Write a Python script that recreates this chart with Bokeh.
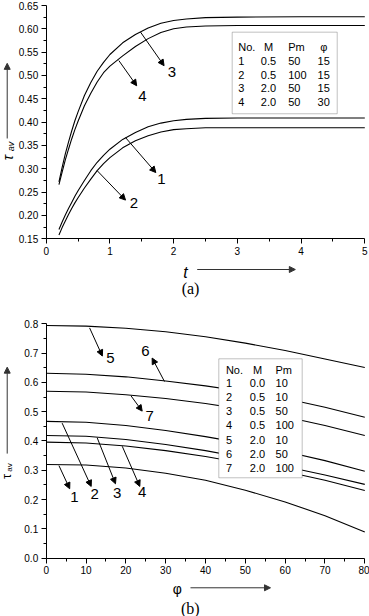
from math import pi
from bokeh.plotting import figure
from bokeh.layouts import column
from bokeh.models import (Range1d, FixedTicker, PrintfTickFormatter, Label, Arrow,
                          NormalHead, BoxAnnotation)
from bokeh.embed import file_html
from bokeh.resources import INLINE

SANS = "Liberation Sans"
SERIF = "Liberation Serif"

# ---------------- (a) tau_av versus t ----------------
a_t = [0.2, 0.25, 0.3, 0.35, 0.4, 0.45, 0.5, 0.6, 0.7, 0.8, 0.9, 1.0, 1.2, 1.4,
       1.6, 1.8, 2.0, 2.2, 2.5, 3.0, 4.0, 5.0]
a_tau1 = [0.170, 0.186, 0.201, 0.215, 0.228, 0.241, 0.253, 0.275, 0.296, 0.314, 0.329,
          0.342, 0.363, 0.378, 0.390, 0.398, 0.403, 0.406, 0.408, 0.409, 0.409, 0.409]
a_tau2 = [0.158, 0.174, 0.188, 0.202, 0.215, 0.227, 0.238, 0.259, 0.278, 0.296, 0.311,
          0.324, 0.345, 0.360, 0.371, 0.379, 0.384, 0.386, 0.388, 0.388, 0.388, 0.388]
a_tau3 = [0.272, 0.303, 0.332, 0.357, 0.381, 0.403, 0.422, 0.457, 0.485, 0.509, 0.528,
          0.545, 0.570, 0.588, 0.602, 0.612, 0.618, 0.621, 0.624, 0.625, 0.626, 0.626]
a_tau4 = [0.266, 0.293, 0.319, 0.342, 0.364, 0.384, 0.402, 0.435, 0.462, 0.486, 0.506,
          0.520, 0.542, 0.562, 0.579, 0.592, 0.600, 0.604, 0.606, 0.607, 0.607, 0.607]
a_series = [a_tau1, a_tau2, a_tau3, a_tau4]

a_leg_no = ["1", "2", "3", "4"]
a_leg_M = ["0.5", "0.5", "2.0", "2.0"]
a_leg_Pm = ["50", "100", "50", "50"]
a_leg_phi = ["15", "15", "15", "30"]

a_xticks = [0, 1, 2, 3, 4, 5]
a_yticks = [0.15, 0.20, 0.25, 0.30, 0.35, 0.40, 0.45, 0.50, 0.55, 0.60, 0.65]

# ---------------- (b) tau_av versus phi ----------------
b_phi = [0, 10, 20, 30, 40, 50, 60, 70, 80]
b_tau1 = [0.320, 0.318, 0.308, 0.290, 0.266, 0.232, 0.192, 0.145, 0.089]
b_tau2 = [0.467, 0.464, 0.453, 0.436, 0.415, 0.391, 0.364, 0.333, 0.297]
b_tau3 = [0.419, 0.416, 0.405, 0.388, 0.367, 0.342, 0.313, 0.284, 0.252]
b_tau4 = [0.396, 0.393, 0.383, 0.367, 0.347, 0.323, 0.296, 0.266, 0.231]
b_tau5 = [0.794, 0.792, 0.785, 0.773, 0.756, 0.734, 0.709, 0.680, 0.651]
b_tau6 = [0.631, 0.628, 0.619, 0.605, 0.588, 0.568, 0.545, 0.515, 0.481]
b_tau7 = [0.570, 0.567, 0.558, 0.545, 0.528, 0.507, 0.483, 0.453, 0.419]
b_series = [b_tau1, b_tau2, b_tau3, b_tau4, b_tau5, b_tau6, b_tau7]

b_leg_no = ["1", "2", "3", "4", "5", "6", "7"]
b_leg_M = ["0.0", "0.5", "0.5", "0.5", "2.0", "2.0", "2.0"]
b_leg_Pm = ["10", "10", "50", "100", "10", "50", "100"]

b_xticks = [0, 10, 20, 30, 40, 50, 60, 70, 80]
b_yticks = [0.0, 0.1, 0.2, 0.3, 0.4, 0.5, 0.6, 0.7, 0.8]


def style(p, xt, yt, xfmt, yfmt):
    p.xaxis.ticker = FixedTicker(ticks=xt, minor_ticks=[(a + b) / 2 for a, b in zip(xt[:-1], xt[1:])])
    p.yaxis.ticker = FixedTicker(ticks=yt, minor_ticks=[(a + b) / 2 for a, b in zip(yt[:-1], yt[1:])])
    p.xaxis.formatter = PrintfTickFormatter(format=xfmt)
    p.yaxis.formatter = PrintfTickFormatter(format=yfmt)
    # axes sit inside the full-canvas frame at the data origin
    p.xaxis.fixed_location = yt[0]
    p.xaxis.bounds = (xt[0], xt[-1])
    p.yaxis.fixed_location = xt[0]
    p.yaxis.bounds = (yt[0], yt[-1])
    for ax in (p.xaxis[0], p.yaxis[0]):
        ax.axis_line_color = "black"
        ax.axis_line_width = 1
        ax.major_tick_line_color = "black"
        ax.minor_tick_line_color = "black"
        ax.major_tick_out = 5
        ax.major_tick_in = 0
        ax.minor_tick_out = 3
        ax.minor_tick_in = 0
        ax.major_label_text_font = SANS
        ax.major_label_text_font_size = "10px"
        ax.major_label_text_color = "black"
        ax.major_label_standoff = 3
    p.xgrid.visible = False
    p.ygrid.visible = False
    p.outline_line_color = None


def txt(p, x, y, s, size="11px", align="left", font=SANS, style_="normal", angle=0, color="black"):
    p.add_layout(Label(x=x, y=y, text=s, text_font=font, text_font_size=size,
                       text_align=align, text_baseline="middle", text_font_style=style_,
                       angle=angle, text_color=color))


def arrow(p, x0, y0, x1, y1, size=6, color="black", width=1):
    p.add_layout(Arrow(x_start=x0, y_start=y0, x_end=x1, y_end=y1, line_color=color,
                       line_width=width,
                       end=NormalHead(size=size, fill_color=color, line_color=color, line_width=1)))


# ---------------- figure (a) ----------------
p1 = figure(width=369, height=300, x_range=Range1d(-0.7172, 5.0738),
            y_range=Range1d(0.0178, 0.6607),
            output_backend="svg", toolbar_location=None,
            min_border_left=0, min_border_right=0, min_border_top=0, min_border_bottom=0)
style(p1, a_xticks, a_yticks, "%d", "%.2f")
for s in a_series:
    p1.line(a_t, s, line_color="black", line_width=1.1)

# curve labels with arrows
arrow(p1, 1.48, 0.593, 1.85, 0.521); txt(p1, 1.975, 0.508, "3", "15px", "center")
arrow(p1, 1.14, 0.532, 1.42, 0.478); txt(p1, 1.51, 0.457, "4", "15px", "center")
arrow(p1, 1.245, 0.367, 1.72, 0.292); txt(p1, 1.81, 0.279, "1", "15px", "center")
arrow(p1, 0.80, 0.296, 1.245, 0.233); txt(p1, 1.375, 0.226, "2", "15px", "center")

# legend table
p1.add_layout(BoxAnnotation(left=2.919, right=4.567, bottom=0.418, top=0.5928,
                            fill_color="white", fill_alpha=1.0, line_color="#333333",
                            line_width=1, level="annotation"))
a_rows = [0.5315, 0.5021, 0.4722, 0.4428]
txt(p1, 3.013, 0.5606, "No.")
txt(p1, 3.489, 0.5606, "M", align="center")
txt(p1, 3.798, 0.5606, "Pm")
txt(p1, 4.355, 0.5606, "\u03c6", align="center")
for i in range(len(a_leg_no)):
    txt(p1, 3.013, a_rows[i], a_leg_no[i])
    txt(p1, 3.489, a_rows[i], a_leg_M[i], align="center")
    txt(p1, 3.798, a_rows[i], a_leg_Pm[i])
    txt(p1, 4.355, a_rows[i], a_leg_phi[i], align="center")

# axis titles with arrows
txt(p1, -0.607, 0.3242, "\u03c4", "14px", "center", style_="italic", angle=pi / 2)
txt(p1, -0.560, 0.3478, "av", "9px", "center", style_="italic", angle=pi / 2)
arrow(p1, -0.612, 0.365, -0.612, 0.526, size=6, color="#333333")
txt(p1, 2.187, 0.078, "t", "16px", "center", style_="italic")
arrow(p1, 2.37, 0.0842, 3.91, 0.0842, size=6, color="#333333")
txt(p1, 2.265, 0.043, "(a)", "16px", "center", font=SERIF)

# ---------------- figure (b) ----------------
p2 = figure(width=369, height=316, x_range=Range1d(-11.475, 81.18),
            y_range=Range1d(-0.199, 0.8795),
            output_backend="svg", toolbar_location=None,
            min_border_left=0, min_border_right=0, min_border_top=0, min_border_bottom=0)
style(p2, b_xticks, b_yticks, "%d", "%.1f")
for s in b_series:
    p2.line(b_phi, s, line_color="black", line_width=1.1)

arrow(p2, 10.9, 0.786, 14.1, 0.690); txt(p2, 16.15, 0.684, "5", "15px", "center")
arrow(p2, 29.7, 0.603, 26.6, 0.683); txt(p2, 24.9, 0.706, "6", "15px", "center")
arrow(p2, 21.3, 0.554, 24.1, 0.502); txt(p2, 26.0, 0.487, "7", "15px", "center")
arrow(p2, 3.2, 0.316, 5.9, 0.237); txt(p2, 7.1, 0.210, "1", "15px", "center")
arrow(p2, 4.0, 0.461, 11.3, 0.245); txt(p2, 12.2, 0.220, "2", "15px", "center")
arrow(p2, 12.8, 0.411, 17.4, 0.254); txt(p2, 17.8, 0.222, "3", "15px", "center")
arrow(p2, 19.1, 0.382, 23.5, 0.245); txt(p2, 24.1, 0.225, "4", "15px", "center")

p2.add_layout(BoxAnnotation(left=43.34, right=64.28, bottom=0.2744, top=0.6805,
                            fill_color="white", fill_alpha=1.0, line_color="#333333",
                            line_width=1, level="annotation"))
b_rows = [0.597, 0.549, 0.502, 0.453, 0.405, 0.356, 0.308]
txt(p2, 45.13, 0.643, "No.")
txt(p2, 53.06, 0.643, "M", align="center")
txt(p2, 57.58, 0.643, "Pm")
for i in range(len(b_leg_no)):
    txt(p2, 45.13, b_rows[i], b_leg_no[i])
    txt(p2, 53.06, b_rows[i], b_leg_M[i], align="center")
    txt(p2, 57.58, b_rows[i], b_leg_Pm[i])

txt(p2, -9.97, 0.279, "\u03c4", "13px", "center", angle=pi / 2)
txt(p2, -9.22, 0.3096, "av", "8px", "center", angle=pi / 2)
arrow(p2, -9.79, 0.357, -9.79, 0.652, size=6, color="#333333")
txt(p2, 32.9, -0.104, "\u03c6", "14px", "center")
arrow(p2, 36.23, -0.101, 56.32, -0.101, size=6, color="#333333")
txt(p2, 36.2, -0.170, "(b)", "16px", "center", font=SERIF)

open("out.html", "w").write(file_html(column(p1, p2), INLINE))
